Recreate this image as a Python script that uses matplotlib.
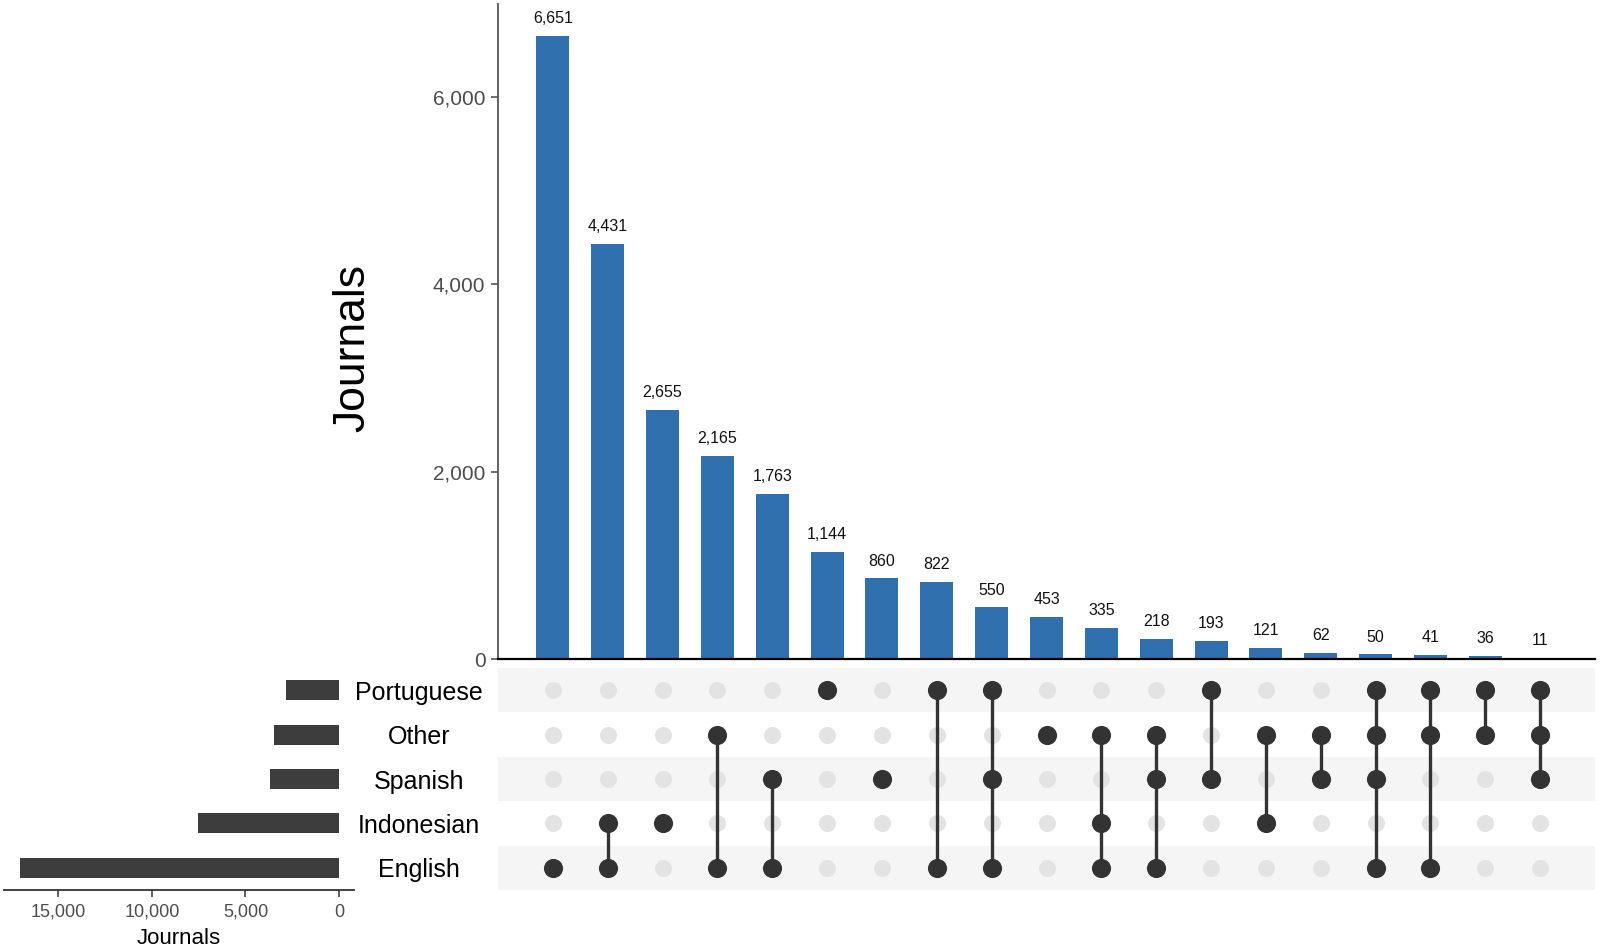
import numpy as np
import matplotlib
matplotlib.use("Agg")
import matplotlib.pyplot as plt
from matplotlib.ticker import FuncFormatter
from matplotlib.transforms import blended_transform_factory

plt.rcParams['font.family'] = ['Liberation Sans', 'DejaVu Sans']

# sets, listed top to bottom in the matrix
sets = ["Portuguese", "Other", "Spanish", "Indonesian", "English"]
set_sizes = [2847, 3492, 3707, 7542, 17026]

# intersection sizes and their members
counts = [6651, 4431, 2655, 2165, 1763, 1144, 860, 822, 550, 453,
          335, 218, 193, 121, 62, 50, 41, 36, 11]
members = [
    ["English"],
    ["Indonesian", "English"],
    ["Indonesian"],
    ["Other", "English"],
    ["Spanish", "English"],
    ["Portuguese"],
    ["Spanish"],
    ["Portuguese", "English"],
    ["Portuguese", "Spanish", "English"],
    ["Other"],
    ["Other", "Indonesian", "English"],
    ["Other", "Spanish", "English"],
    ["Portuguese", "Spanish"],
    ["Other", "Indonesian"],
    ["Other", "Spanish"],
    ["Portuguese", "Other", "Spanish", "English"],
    ["Portuguese", "Other", "English"],
    ["Portuguese", "Other"],
    ["Portuguese", "Other", "Spanish"],
]

BLUE = "#3070ae"
DARK = "#333333"
LIGHT = "#e3e3e3"
STRIPE = "#f5f5f5"
W, H = 1603, 947

fig = plt.figure(figsize=(W / 100, H / 100), dpi=100)

def rect(x0, y0, x1, y1):
    return [x0 / W, 1 - y1 / H, (x1 - x0) / W, (y1 - y0) / H]

ax = fig.add_axes(rect(498, 4, 1595, 659))
axm = fig.add_axes(rect(498, 668, 1595, 890))
axs = fig.add_axes(rect(4, 668, 354, 890))

n = len(counts)
x = np.arange(n)
ypos = {s: len(sets) - 1 - i for i, s in enumerate(sets)}

# intersection bars
ax.bar(x, counts, width=0.6, color=BLUE)
for xi, c in zip(x, counts):
    ax.annotate(f"{c:,}", (xi, c), xytext=(0, 7), textcoords="offset points",
                ha="center", va="bottom", fontsize=11.5, color="#111111")
ax.set_xlim(-1, n)
ax.set_ylim(0, 6990)
ax.set_yticks([0, 2000, 4000, 6000])
ax.yaxis.set_major_formatter(FuncFormatter(lambda v, p: f"{int(v):,}"))
ax.set_xticks([])
for sp in ["top", "right"]:
    ax.spines[sp].set_visible(False)
ax.spines["left"].set_color("#555555")
ax.spines["left"].set_linewidth(1.3)
ax.spines["bottom"].set_color("black")
ax.spines["bottom"].set_linewidth(1.6)
ax.tick_params(axis="y", labelsize=15, labelcolor="#4d4d4d", color="#555555",
               length=5, width=1.2, pad=4)
fig.text(353 / W, 1 - 348 / H, "Journals", rotation=90, ha="center", va="center",
         fontsize=32)

# matrix
for i in range(len(sets)):
    if i % 2 == 0:
        axm.axhspan(i - 0.5, i + 0.5, color=STRIPE, lw=0, zorder=0)
for xi, mem in zip(x, members):
    ys = [ypos[s] for s in mem]
    axm.scatter([xi] * len(sets), range(len(sets)), s=150, color=LIGHT, lw=0, zorder=1)
    if len(ys) > 1:
        axm.plot([xi, xi], [min(ys), max(ys)], color=DARK, lw=2.4, zorder=2)
    axm.scatter([xi] * len(ys), ys, s=190, color=DARK, lw=0, zorder=3)
axm.set_xlim(-1, n)
axm.set_ylim(-0.5, len(sets) - 0.5)
axm.axis("off")

# set sizes
axs.barh([ypos[s] for s in sets], set_sizes, height=0.45, color="#3d3d3d")
axs.set_ylim(-0.5, len(sets) - 0.5)
axs.set_xlim(17900, -800)
axs.set_xticks([15000, 10000, 5000, 0])
axs.xaxis.set_major_formatter(FuncFormatter(lambda v, p: f"{int(v):,}"))
axs.set_yticks([])
for sp in ["top", "right", "left"]:
    axs.spines[sp].set_visible(False)
axs.spines["bottom"].set_color("#333333")
axs.spines["bottom"].set_linewidth(1.3)
axs.tick_params(axis="x", labelsize=13, labelcolor="#4d4d4d", color="#333333",
                length=5, width=1.1, pad=5)
axs.set_xlabel("Journals", fontsize=16, labelpad=5)

tr = blended_transform_factory(fig.transFigure, axm.transData)
for s in sets:
    fig.text(419 / W, ypos[s], s, transform=tr, ha="center", va="center_baseline",
             fontsize=18)

fig.savefig("out.png", dpi=100)
